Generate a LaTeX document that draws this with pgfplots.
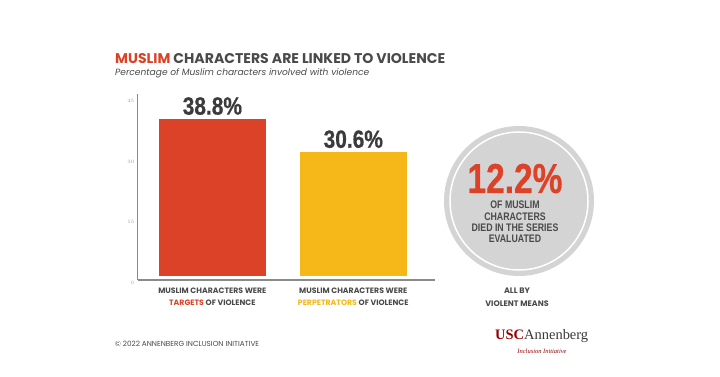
\documentclass[border=0pt]{standalone}
\usepackage{pgfplots}
\pgfplotsset{compat=1.18}
\usepackage{fontspec}
\usepackage{graphicx}
\setmainfont{Poppins}
\newfontfamily\condA[FakeStretch=0.84, FakeBold=0.6]{Liberation Sans}
\newfontfamily\condB[FakeStretch=0.80]{Liberation Sans}
\newfontfamily\condC[FakeStretch=0.80, FakeBold=0.6]{Liberation Sans}
\newfontfamily\serifL{Liberation Serif}
\definecolor{cred}{HTML}{DC4227}
\definecolor{cyel}{HTML}{F6B818}
\definecolor{tgray}{HTML}{4A4A4A}
\definecolor{numgray}{HTML}{3B3B3B}
\definecolor{cgray}{HTML}{D4D4D4}
\definecolor{axgray}{HTML}{8A8A8A}
\definecolor{lgray}{HTML}{9A9A9A}
\definecolor{usc}{HTML}{990000}
\begin{document}
\begin{tikzpicture}
\useasboundingbox[fill=white] (0,0) rectangle (720bp,377bp);
% title
\node[anchor=base west, inner sep=0pt, text=tgray] at (115bp,313bp)
  {\resizebox{330bp}{!}{\fontsize{14}{14}\selectfont\bfseries\textcolor{cred}{MUSLIM} CHARACTERS ARE LINKED TO VIOLENCE}};
\node[anchor=base west, inner sep=0pt, text=tgray] at (115bp,301bp)
  {\resizebox{254bp}{!}{\fontsize{9.5}{9.5}\selectfont\itshape Percentage of Muslim characters involved with violence}};
\begin{axis}[
  at={(137.7bp,97bp)}, anchor=south west, scale only axis,
  width=297bp, height=186bp,
  xmin=-0.53, xmax=1.578, ymin=-1, ymax=45,
  axis x line*=bottom, axis y line*=left,
  axis line style={draw=axgray, line width=1.3bp, -},
  ytick={0,15,30,45}, major tick length=0pt,
  yticklabel style={font=\fontsize{5.5}{5.5}\selectfont, text=lgray, yshift=-7bp},
  xtick={0,1},
  xticklabels={{MUSLIM CHARACTERS WERE\\\textcolor{cred}{TARGETS} OF VIOLENCE},{MUSLIM CHARACTERS WERE\\\textcolor{cyel}{PERPETRATORS} OF VIOLENCE}},
  xticklabel style={align=center, font=\fontsize{7.8}{12}\selectfont\bfseries, text=tgray, anchor=north, inner sep=0pt, yshift=-8bp},
  ybar, bar width=107bp,
  nodes near coords, point meta=explicit symbolic,
  every node near coord/.append style={font=\condA\bfseries\fontsize{25}{25}\selectfont, text=numgray, inner sep=0pt, anchor=south, yshift=4bp},
  clip=false,
]
\addplot[fill=cred, draw=none, bar shift=0pt] coordinates {(0,38.8) [38.8\%]};
\addplot[fill=cyel, draw=none, bar shift=0pt] coordinates {(1,30.6) [30.6\%]};
\end{axis}
% circle
\fill[cgray] (519bp,176bp) circle (75bp);
\draw[white, line width=1.5bp] (519bp,176bp) circle (69bp);
\node[anchor=base, inner sep=0pt, text=cred, font=\condC\bfseries\fontsize{42}{42}\selectfont] at (515bp,184bp) {12.2\%};
\begin{scope}[every node/.style={anchor=base, inner sep=0pt, text=tgray, font=\condB\bfseries\fontsize{11}{11}\selectfont}]
\node at (515bp,168bp) {OF MUSLIM};
\node at (515bp,156bp) {CHARACTERS};
\node at (515bp,145bp) {DIED IN THE SERIES};
\node at (515bp,134bp) {EVALUATED};
\end{scope}
\begin{scope}[every node/.style={anchor=base, inner sep=0pt, text=tgray, font=\fontsize{8}{8}\selectfont\bfseries}]
\node at (517bp,83bp) {ALL BY};
\node at (517bp,70bp) {VIOLENT MEANS};
\end{scope}
% footer
\node[anchor=base west, inner sep=0pt, text=tgray, font=\fontsize{7.3}{7.3}\selectfont] at (115bp,31bp) {\textcopyright{} 2022 ANNENBERG INCLUSION INITIATIVE};
\node[anchor=base west, inner sep=0pt] at (495bp,37bp)
  {\resizebox{93bp}{!}{\serifL\fontsize{17.6}{17.6}\selectfont\textcolor{usc}{\bfseries USC}\textcolor{numgray}{Annenberg}}};
\node[anchor=base, inner sep=0pt, text=usc, font=\serifL\itshape\fontsize{6.5}{6.5}\selectfont] at (542bp,24bp) {Inclusion Initiative};
\end{tikzpicture}
\end{document}
